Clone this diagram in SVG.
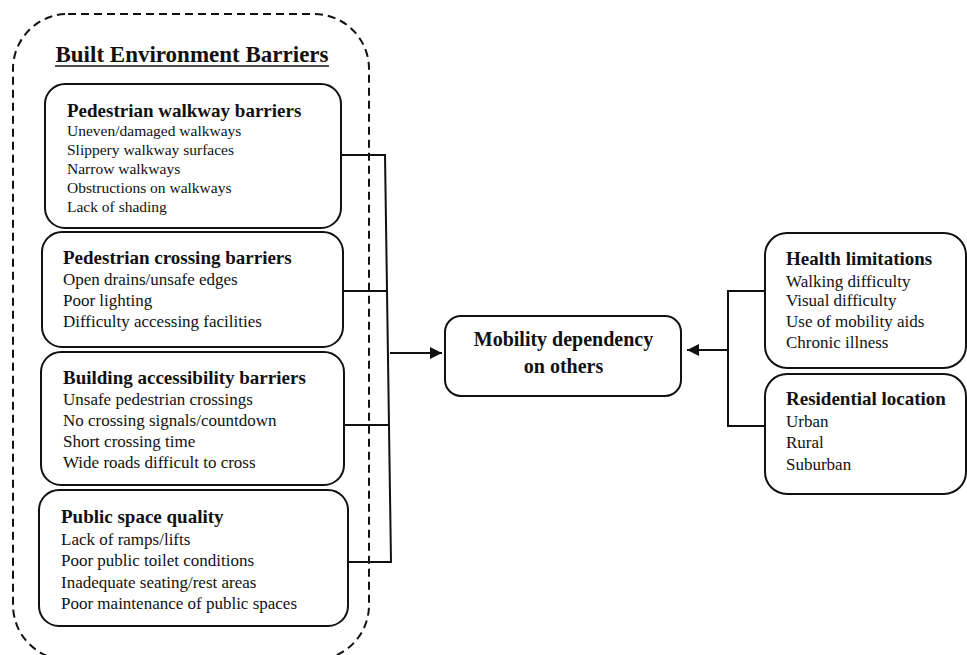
<svg xmlns="http://www.w3.org/2000/svg" width="967" height="655" viewBox="0 0 967 655">
<style>
text{font-family:"Liberation Serif","Times New Roman",serif;fill:#111}
.h{font-weight:bold;font-size:19px}
.i{font-size:17px}
.s{font-size:15.5px}
.box{fill:#fff;stroke:#111;stroke-width:2}
.c{fill:none;stroke:#111;stroke-width:2}
</style>
<defs>
<marker id="ah" viewBox="0 0 10 10" refX="10" refY="5" markerWidth="6" markerHeight="6" orient="auto" markerUnits="strokeWidth">
<path d="M0,0 L10,5 L0,10 z" fill="#111"/>
</marker>
</defs>
<rect width="967" height="655" fill="#fff"/>
<g id="group-built-environment">
<rect x="13" y="14" width="356" height="646" rx="55" fill="none" stroke="#111" stroke-width="2" stroke-dasharray="8,5"/>
<text x="192" y="62" text-anchor="middle" style="font-weight:bold;font-size:23px">Built Environment Barriers</text>
<line x1="55" y1="66" x2="329" y2="66" stroke="#111" stroke-width="1.5"/>
</g>
<g id="node-walkway">
<rect class="box" x="45" y="84" width="296" height="144" rx="20"/>
<text class="h" x="67" y="117">Pedestrian walkway barriers</text>
<text class="s" x="67" y="136">Uneven/damaged walkways</text>
<text class="s" x="67" y="155">Slippery walkway surfaces</text>
<text class="s" x="67" y="174">Narrow walkways</text>
<text class="s" x="67" y="193">Obstructions on walkways</text>
<text class="s" x="67" y="212">Lack of shading</text>
</g>
<g id="node-crossing">
<rect class="box" x="42" y="232" width="301" height="115" rx="20"/>
<text class="h" x="63" y="264">Pedestrian crossing barriers</text>
<text class="i" x="63" y="285">Open drains/unsafe edges</text>
<text class="i" x="63" y="306">Poor lighting</text>
<text class="i" x="63" y="327">Difficulty accessing facilities</text>
</g>
<g id="node-building">
<rect class="box" x="41" y="352" width="303" height="133" rx="20"/>
<text class="h" x="63" y="384">Building accessibility barriers</text>
<text class="i" x="63" y="405">Unsafe pedestrian crossings</text>
<text class="i" x="63" y="426">No crossing signals/countdown</text>
<text class="i" x="63" y="447">Short crossing time</text>
<text class="i" x="63" y="468">Wide roads difficult to cross</text>
</g>
<g id="node-public">
<rect class="box" x="39" y="490" width="309" height="136" rx="20"/>
<text class="h" x="61" y="523">Public space quality</text>
<text class="i" x="61" y="545">Lack of ramps/lifts</text>
<text class="i" x="61" y="566">Poor public toilet conditions</text>
<text class="i" x="61" y="588">Inadequate seating/rest areas</text>
<text class="i" x="61" y="609">Poor maintenance of public spaces</text>
</g>
<g id="node-mobility">
<rect class="box" x="445" y="316" width="236" height="80" rx="16"/>
<text x="563.5" y="346" text-anchor="middle" style="font-weight:bold;font-size:20px">Mobility dependency</text>
<text x="563.5" y="373" text-anchor="middle" style="font-weight:bold;font-size:20px">on others</text>
</g>
<g id="node-health">
<rect class="box" x="765" y="233" width="201" height="135" rx="22"/>
<text class="h" x="786" y="265">Health limitations</text>
<text class="i" x="786" y="287">Walking difficulty</text>
<text class="i" x="786" y="306">Visual difficulty</text>
<text class="i" x="786" y="327">Use of mobility aids</text>
<text class="i" x="786" y="348">Chronic illness</text>
</g>
<g id="node-residential">
<rect class="box" x="765" y="374" width="201" height="120" rx="22"/>
<text class="h" x="786" y="405">Residential location</text>
<text class="i" x="786" y="427">Urban</text>
<text class="i" x="786" y="448">Rural</text>
<text class="i" x="786" y="470">Suburban</text>
</g>
<g id="connectors">
<path class="c" d="M341,155 H385 L391,562 H348"/>
<path class="c" d="M343,291 H388"/>
<path class="c" d="M344,425 H390"/>
<line class="c" x1="390" y1="353" x2="442" y2="353" marker-end="url(#ah)"/>
<path class="c" d="M765,291 H728 V426 H765"/>
<line class="c" x1="728" y1="350" x2="687" y2="350" marker-end="url(#ah)"/>
</g>
</svg>
